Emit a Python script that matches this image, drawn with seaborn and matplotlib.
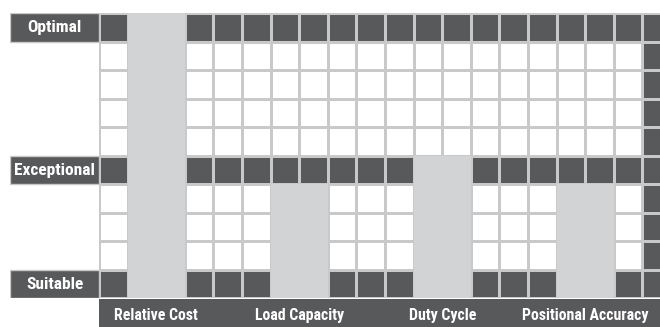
"""Rating grid: four actuator criteria scored against Suitable / Exceptional / Optimal.

Output: out.png (660x327)
"""

import matplotlib.pyplot as plt
import numpy as np
import seaborn as sns
from matplotlib import font_manager
from matplotlib.colors import ListedColormap

# rating levels (counted in grid rows from the bottom)
RATING_LABELS = ["Optimal", "Exceptional", "Suitable"]
RATING_LEVELS = [10, 5, 1]

# criteria and their score (grid rows filled from the bottom)
CRITERIA = ["Relative Cost", "Load Capacity", "Duty Cycle", "Positional Accuracy"]
SCORES = [10, 4, 5, 4]

N_ROWS = 10
N_COLS = 20

DARK = "#58595b"
BAR = "#d1d3d4"
GRID = "#c9c9c9"


def pick_font():
    """Prefer a narrow bold face like the original's condensed type."""
    avail = {(f.name, f.stretch) for f in font_manager.fontManager.ttflist}
    names = {n for n, _ in avail}
    for fam in ["Liberation Sans Narrow", "Roboto Condensed", "Open Sans Condensed",
                "Noto Sans Condensed"]:
        if fam in names:
            return [fam, "DejaVu Sans"], "normal"
    if ("DejaVu Sans", "condensed") in avail or ("DejaVu Sans", "semi-condensed") in avail:
        return ["DejaVu Sans"], "condensed"
    return ["Roboto", "DejaVu Sans"], "normal"


def fit_size(fig, text, family, stretch, target_px, base=11.0):
    # scale font size so the label is about as wide as in the original
    t = fig.text(0, 0, text, fontsize=base, fontweight="bold",
                 family=family, fontstretch=stretch)
    w = t.get_window_extent(renderer=fig.canvas.get_renderer()).width
    t.remove()
    return base * target_px / w


def main():
    sns.set_theme(style="white")
    family, stretch = pick_font()
    plt.rcParams["font.family"] = family

    W, H = 660, 327
    fig = plt.figure(figsize=(W / 100, H / 100), dpi=100)

    cell_w, cell_h = 28.6, 28.5
    top, left = 13, 99
    grid_h = N_ROWS * cell_h
    bottom = top + grid_h

    # a touch wider than the original so the cap height comes closer to it
    row_fs = min(fit_size(fig, "Exceptional", family, stretch, 82), 12.5)
    col_fs = min(fit_size(fig, "Positional Accuracy", family, stretch, 126), 12.5)

    # background grid: dark rows at each rating level, dark last column
    grid = np.zeros((N_ROWS, N_COLS))
    for lvl in RATING_LEVELS:
        grid[N_ROWS - lvl, :] = 1
    grid[:, -1] = 1

    ax = fig.add_axes([left / W, (H - bottom) / H, N_COLS * cell_w / W, grid_h / H])
    sns.heatmap(
        grid,
        cmap=ListedColormap(["white", DARK]),
        vmin=0, vmax=1,
        cbar=False,
        linewidths=1.0,
        linecolor=GRID,
        xticklabels=False,
        yticklabels=False,
        ax=ax,
    )
    # score bars, each two columns wide, rising from the bottom of the grid
    for i, score in enumerate(SCORES):
        ax.bar(1 + 5 * i, -score, bottom=N_ROWS, width=2, align="edge",
               color=BAR, linewidth=0, zorder=3)

    # row labels in dark boxes to the left
    lax = fig.add_axes([10 / W, (H - bottom) / H, (left - 10) / W, grid_h / H])
    lax.set_xlim(0, 1)
    lax.set_ylim(N_ROWS, 0)
    lax.axis("off")
    for name, lvl in zip(RATING_LABELS, RATING_LEVELS):
        row = N_ROWS - lvl
        lax.barh(row, 1, height=1, align="edge", color=DARK,
                 edgecolor=GRID, linewidth=1.0)
        lax.text(0.5, row + 0.52, name, ha="center", va="center", color="white",
                 fontsize=row_fs, fontweight="bold", fontstretch=stretch)

    # criteria band along the bottom
    bax = fig.add_axes([left / W, 0, N_COLS * cell_w / W, (H - bottom - 1) / H])
    bax.set_facecolor(DARK)
    bax.set_xlim(0, N_COLS)
    bax.set_ylim(0, 1)
    bax.set_xticks([])
    bax.set_yticks([])
    for s in bax.spines.values():
        s.set_visible(False)
    for i, name in enumerate(CRITERIA):
        bax.text(2 + 5 * i, 0.25, name, ha="center", va="baseline",
                 color="white", fontsize=col_fs, fontweight="bold",
                 fontstretch=stretch)

    fig.savefig("out.png", dpi=100)
    plt.close(fig)


if __name__ == "__main__":
    main()
